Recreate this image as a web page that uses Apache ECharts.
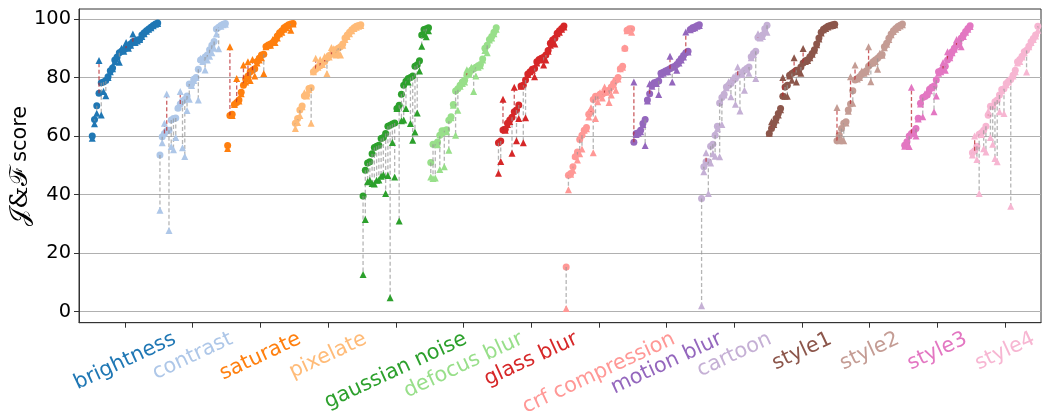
<!DOCTYPE html>
<html>
<head>
<meta charset="utf-8">
<script src="https://cdn.jsdelivr.net/npm/echarts@6/dist/echarts.min.js"></script>
<style>
  html, body { margin: 0; padding: 0; background: #fff; }
  #chart { width: 1042px; height: 413px; }
</style>
</head>
<body>
<div id="chart"></div>
<script>
// Perturbation categories along the x axis, with their colours
const categories = ['brightness', 'contrast', 'saturate', 'pixelate', 'gaussian noise', 'defocus blur',
  'glass blur', 'crf compression', 'motion blur', 'cartoon', 'style1', 'style2', 'style3', 'style4'];
const palette = ['#1f77b4', '#aec7e8', '#ff7f0e', '#ffbb78', '#2ca02c', '#98df8a', '#d62728',
  '#ff9896', '#9467bd', '#c5b0d5', '#8c564b', '#c49c94', '#e377c2', '#f7b6d2'];
const yTickValues = [0, 20, 40, 60, 80, 100];

// Per-sample scores: circle markers (sorted) and the paired triangle markers
const brightnessCircle = [60, 65.7, 70.4, 74.6, 78.2, 78.5, 79, 80.3, 82.3, 83.3, 86, 87, 88.5, 89, 89.5, 90, 90.5, 91.5, 92.2, 92.5, 92.8, 93, 94.5, 95.3, 96, 96.6, 97.2, 97.8, 98.3, 98.6];
const brightnessTriangle = [59.3, 64.2, 67.8, 85.8, 67.2, 75.2, 73.8, 80, 82, 83, 85.5, 87, 85.2, 90, 89, 92, 90, 91, 94.9, 92, 92.5, 93, 94, 95, 95.8, 96.5, 97, 97.7, 98.2, 98.5];

const contrastCircle = [53.5, 59.8, 60.9, 61.8, 62, 65.5, 66, 66.2, 69.5, 71, 72, 72.5, 73.7, 77.8, 77.8, 79.4, 80, 82.8, 86, 86.2, 87, 87.7, 89.5, 91, 92.3, 96.6, 97.2, 97.8, 98.2, 98.5];
const contrastTriangle = [34.7, 57.7, 64.4, 74.4, 27.7, 56.4, 55.3, 59.5, 70, 75.2, 56, 53, 68.7, 72.6, 77.3, 79, 80, 72.3, 86.6, 85.5, 82.6, 86, 87.3, 88.5, 90, 94.9, 89.8, 97.5, 98, 98.2];

const saturateCircle = [56.8, 67, 67.5, 70.8, 71.5, 72.3, 75, 77.4, 79.5, 80.5, 82, 82.5, 83, 85.5, 86.6, 87.7, 88, 90.6, 91.1, 91.5, 92, 92.8, 94.2, 95.3, 96, 97, 97.5, 98, 98.3, 98.5];
const saturateTriangle = [55.8, 90.5, 67, 70.8, 79.7, 72, 74.5, 84.3, 78.5, 85.4, 79, 86.2, 80.5, 85, 86, 86.8, 81.4, 90.5, 91, 91, 93, 92, 93.5, 95, 95.5, 96.5, 97, 97.8, 96.2, 98.3];

const pixelateCircle = [64.4, 66, 68.9, 70.3, 73.7, 74, 76.3, 76.5, 82, 82.8, 83.7, 84, 85, 85.5, 86.6, 87.5, 88, 88.8, 89.5, 90, 90.5, 91.5, 93.5, 94.5, 95.5, 96.3, 97, 97.5, 97.8, 98];
const pixelateTriangle = [62.6, 64.6, 67, 70, 74.8, 73.7, 75.8, 64.4, 82, 86.6, 83.5, 86.2, 84.5, 87.2, 81.4, 87, 90.3, 89.8, 87.7, 88.5, 87.7, 91, 93, 94, 95, 96, 96.8, 97.2, 97.5, 97.8];

const gaussianCircle = [39.5, 48.3, 50.8, 51.2, 54, 56.1, 56.5, 56.9, 59.2, 59.5, 60.9, 63.4, 63.7, 64.1, 64.5, 69.4, 70.5, 74.3, 77.4, 78.7, 79.7, 80, 80.5, 83.9, 84.4, 85.7, 94.5, 96.4, 96.7, 97];
const gaussianTriangle = [12.7, 31.5, 44.4, 44.9, 43.8, 43.6, 44.9, 45, 46.3, 46.8, 40.4, 46.5, 4.8, 57.8, 46, 69.4, 31, 65.2, 65.5, 69.4, 78.5, 64.3, 58.6, 61.4, 67.9, 82.2, 90.7, 95, 93.9, 96];

const defocusCircle = [51, 57.2, 57.2, 58, 60.3, 61.8, 61.8, 62.2, 65.4, 66.6, 70.8, 75.4, 76.2, 77.4, 78.5, 79.1, 80.8, 81.5, 82.5, 83, 83.5, 84, 84.5, 86.3, 90, 91, 93, 94, 95.5, 97];
const defocusTriangle = [46, 45.5, 45.7, 57, 48.6, 61.2, 49.5, 61.5, 55.2, 66.3, 70.5, 60.3, 68.8, 77, 78, 78.5, 82.7, 81, 83.5, 75.2, 80.5, 83.5, 84, 86, 89.2, 88.5, 92.8, 93.5, 95, 96.5];

const glassCircle = [57.7, 58.3, 62.1, 62.3, 64.4, 65.5, 66.4, 68.3, 68.9, 70.6, 77.1, 77.4, 79.2, 81.2, 82, 82.8, 83.1, 85.4, 86.2, 86.6, 86.9, 87.7, 89.2, 91.7, 92.8, 93.4, 95.1, 96, 96.8, 97.6];
const glassTriangle = [47.3, 51.3, 72.6, 62, 64, 65, 54.1, 76.7, 58.4, 66, 77, 57.7, 66.3, 81, 82, 82.5, 80.3, 85, 86, 86.2, 84.3, 86, 89, 91, 92.5, 91.5, 95, 95.5, 96.5, 97.3];

const crfCircle = [15.3, 46.6, 47.2, 49.5, 52.9, 54.6, 58.8, 60.3, 62, 62.9, 67.5, 68.3, 72.5, 73.6, 73.6, 74.3, 74.3, 74.8, 75.4, 75.7, 76.8, 78, 79.1, 80, 83, 83.9, 89.9, 96.2, 96.7, 96.7];
const crfTriangle = [1.1, 41.7, 47, 48.3, 53.5, 51.8, 54, 55.6, 62, 62.5, 66.5, 69.7, 54.3, 66, 71.7, 74.8, 73, 76.8, 75, 71.5, 74, 77.5, 75.7, 79.5, 83, 83.5, 90.2, 96, 96.3, 95.5];

const motionCircle = [57.9, 60.9, 61.1, 62, 64.3, 65.7, 72.3, 74.5, 77.4, 78.2, 78.5, 78.8, 81.5, 81.8, 82.2, 82.6, 83, 83.5, 83.8, 84.5, 85.5, 86.5, 87.5, 88.5, 89, 96.4, 97, 97.3, 97.7, 98];
const motionTriangle = [78.5, 60.5, 61, 61.5, 64, 56.8, 72, 77.9, 77, 78, 78, 74.2, 81, 81.5, 82, 82, 87.3, 78.5, 83.5, 82.5, 85, 86, 87, 95.6, 88.7, 96.3, 96.8, 97, 97.5, 97.8];

const cartoonCircle = [38.7, 49.5, 51.2, 51.2, 56.5, 57.2, 60.3, 63.4, 71.3, 73.2, 74.3, 76.8, 77.4, 78, 79.1, 79.7, 80.8, 81.1, 81.6, 82.5, 83.1, 83.6, 87.1, 88.2, 89, 93.7, 93.9, 94.5, 96.7, 97.9];
const cartoonTriangle = [2, 47.8, 54.3, 40.4, 50.8, 54, 53.1, 62.5, 52.9, 64, 74, 76.5, 78.6, 73.4, 80.2, 70.9, 83.6, 68.6, 81, 75.7, 82.8, 81.5, 86.8, 87.9, 79.7, 95, 93.5, 94, 96.5, 95.5];

const style1Circle = [60.9, 62.6, 64.3, 66, 67.7, 69.4, 73.6, 76.8, 77.4, 80.8, 81.4, 81.9, 82.5, 82.5, 83.6, 85, 85.7, 86.1, 87.1, 88.2, 89.5, 91.5, 93.5, 95.5, 96.5, 97, 97.5, 97.8, 98, 98.2];
const style1Triangle = [61, 64.9, 64, 65.5, 67.2, 69, 80, 73.6, 73.6, 80.5, 79.1, 86.8, 78.5, 82, 81.5, 89.9, 85.5, 85.8, 86.8, 88, 89.3, 91.2, 93.2, 95.2, 96.3, 96.8, 97.3, 97.6, 97.8, 98];

const style2Circle = [58.4, 60.4, 62.6, 64.4, 64.9, 68.9, 71, 75.5, 79.2, 79.7, 80.3, 81.2, 81.7, 82.3, 83.9, 84.6, 85.4, 86, 86.6, 87.4, 87.9, 90.5, 91.7, 93.4, 94.9, 96, 96.8, 97.4, 97.9, 98.3];
const style2Triangle = [69.8, 58.4, 59, 58.4, 64.5, 68.5, 80.3, 71.2, 84.3, 79.5, 80, 82.2, 81.5, 82, 90.5, 78.6, 85, 85.5, 82.8, 88.3, 87.6, 90.2, 91.4, 93, 94.6, 95.7, 96.5, 97.1, 97.6, 98];

const style3Circle = [56.9, 58.1, 60, 60.9, 61.5, 62.6, 66.1, 71.2, 73.2, 73.5, 74, 76, 76.7, 77.1, 79.2, 82, 82.3, 83.1, 83.9, 86, 87.1, 88.8, 90, 91.1, 91.7, 93.4, 94.5, 95.7, 96.8, 97.7];
const style3Triangle = [56.5, 57.8, 56.4, 76.7, 61, 60, 65.8, 71, 66.6, 74.5, 75.2, 75.5, 76.5, 68.3, 73.7, 81.5, 82, 85.1, 82.5, 88.8, 86.8, 88.5, 89.7, 93, 91.5, 90.5, 94, 95.5, 96.5, 97.4];

const style4Circle = [54.3, 55, 56.5, 60.6, 61.1, 62, 63.4, 67.1, 70.2, 70.2, 71.7, 72.3, 74, 75.9, 76.2, 78, 78.7, 79.3, 80.8, 82.5, 85.4, 86.2, 87.3, 88.8, 89.3, 90.7, 92.2, 93.3, 94.5, 97.5];
const style4Triangle = [53.5, 60, 52, 40.4, 60.5, 55.7, 54.6, 68.5, 59.5, 57.2, 52.3, 51.2, 68.3, 75.5, 67.7, 77.5, 78.5, 36, 80.5, 82, 85, 85.5, 87, 88.5, 81.9, 90.5, 92, 93, 94.2, 96.2];

const groups = [
  [brightnessCircle, brightnessTriangle], [contrastCircle, contrastTriangle],
  [saturateCircle, saturateTriangle], [pixelateCircle, pixelateTriangle],
  [gaussianCircle, gaussianTriangle], [defocusCircle, defocusTriangle],
  [glassCircle, glassTriangle], [crfCircle, crfTriangle],
  [motionCircle, motionTriangle], [cartoonCircle, cartoonTriangle],
  [style1Circle, style1Triangle], [style2Circle, style2Triangle],
  [style3Circle, style3Triangle], [style4Circle, style4Triangle]
];

// Spread each category's samples evenly across its slot on the x axis
const circleData = [], triangleData = [], linkData = [];
groups.forEach(([circ, tri], g) => {
  const n = circ.length;
  circ.forEach((v, k) => {
    const x = g + (k - (n - 1) / 2) / n;
    circleData.push([x, v, g]);
    triangleData.push([x, tri[k], g]);
    linkData.push([x, v, tri[k]]);
  });
});

// Tick labels: rotated, centred under their tick with the top of the rotated box just below the axis
const LABEL_FONT = 20.8;
const ANGLE = 25;
const rad = ANGLE * Math.PI / 180;
const measureCtx = document.createElement('canvas').getContext('2d');
measureCtx.font = LABEL_FONT + 'px "DejaVu Sans"';
const LABEL_MARGIN = 8;
const rich = {};
categories.forEach((name, i) => {
  const w = measureCtx.measureText(name).width;
  const h = LABEL_FONT * 1.1;
  const d = -3 + (w * Math.sin(rad) + h * Math.cos(rad)) / 2;
  rich['c' + i] = {
    color: palette[i],
    fontSize: LABEL_FONT,
    fontFamily: 'DejaVu Sans',
    padding: [2 * d * Math.cos(rad), 2 * d * Math.sin(rad), 0, 0]
  };
});

const chart = echarts.init(document.getElementById('chart'), null, { renderer: 'canvas' });
chart.setOption({
  animation: false,
  backgroundColor: '#fff',
  grid: {
    left: 79, right: 1, top: 9, bottom: 90.3,
    show: true, borderColor: '#333', borderWidth: 1, backgroundColor: 'transparent',
    outerBoundsMode: 'none', containLabel: false
  },
  xAxis: {
    type: 'value',
    min: -0.679, max: 13.53,
    axisLine: { show: true, onZero: false, lineStyle: { color: '#333', width: 1 } },
    axisTick: { show: true, length: 5, lineStyle: { color: '#333' }, customValues: categories.map((_, i) => i) },
    splitLine: { show: false },
    axisLabel: {
      customValues: categories.map((_, i) => i),
      interval: 0,
      hideOverlap: false,
      rotate: ANGLE,
      align: 'center',
      verticalAlign: 'middle',
      margin: LABEL_MARGIN,
      formatter: (v) => { const i = Math.round(v); return '{c' + i + '|' + categories[i] + '}'; },
      rich: rich
    }
  },
  yAxis: {
    type: 'value',
    min: -3.76, max: 103.42,
    splitNumber: 5,
    name: '{m|\u{1D4A5}&\u2131}{t| score}',
    nameLocation: 'middle',
    nameGap: 46,
    nameMoveOverlap: false,
    nameTextStyle: {
      color: '#000',
      rich: {
        m: { fontSize: 25, fontFamily: 'DejaVu Serif', color: '#000' },
        t: { fontSize: 20.8, fontFamily: 'DejaVu Sans', color: '#000' }
      }
    },
    axisLine: { show: true, onZero: false, lineStyle: { color: '#333', width: 1 } },
    axisTick: { show: true, length: 5, lineStyle: { color: '#333' }, customValues: yTickValues },
    axisLabel: {
      customValues: yTickValues,
      fontSize: 19.4, fontFamily: 'DejaVu Sans', color: '#000', margin: 8
    },
    splitLine: { show: true, showMinLine: true, showMaxLine: true, lineStyle: { color: '#b0b0b0', width: 1 } }
  },
  series: [
    {
      type: 'scatter',
      data: circleData,
      symbol: 'circle',
      symbolSize: 7,
      itemStyle: { color: (p) => palette[p.data[2]], opacity: 1 },
      silent: true,
      z: 2
    },
    {
      // dashed connector between each circle and its triangle: red when it rises, grey when it drops
      type: 'custom',
      data: linkData,
      encode: { x: 0, y: [1, 2] },
      silent: true,
      z: 3,
      renderItem: (params, api) => {
        const x = api.value(0), a = api.value(1), b = api.value(2);
        const p1 = api.coord([x, a]);
        const p2 = api.coord([x, b]);
        return {
          type: 'line',
          shape: { x1: p1[0], y1: p1[1], x2: p2[0], y2: p2[1] },
          style: {
            stroke: b > a ? 'rgba(185,40,45,0.75)' : 'rgba(150,150,150,0.7)',
            lineWidth: 1.3,
            lineDash: [4, 2.5]
          }
        };
      }
    },
    {
      type: 'scatter',
      data: triangleData,
      symbol: 'triangle',
      symbolSize: 7,
      itemStyle: { color: (p) => palette[p.data[2]], opacity: 1 },
      silent: true,
      z: 4
    }
  ]
});
</script>
</body>
</html>
